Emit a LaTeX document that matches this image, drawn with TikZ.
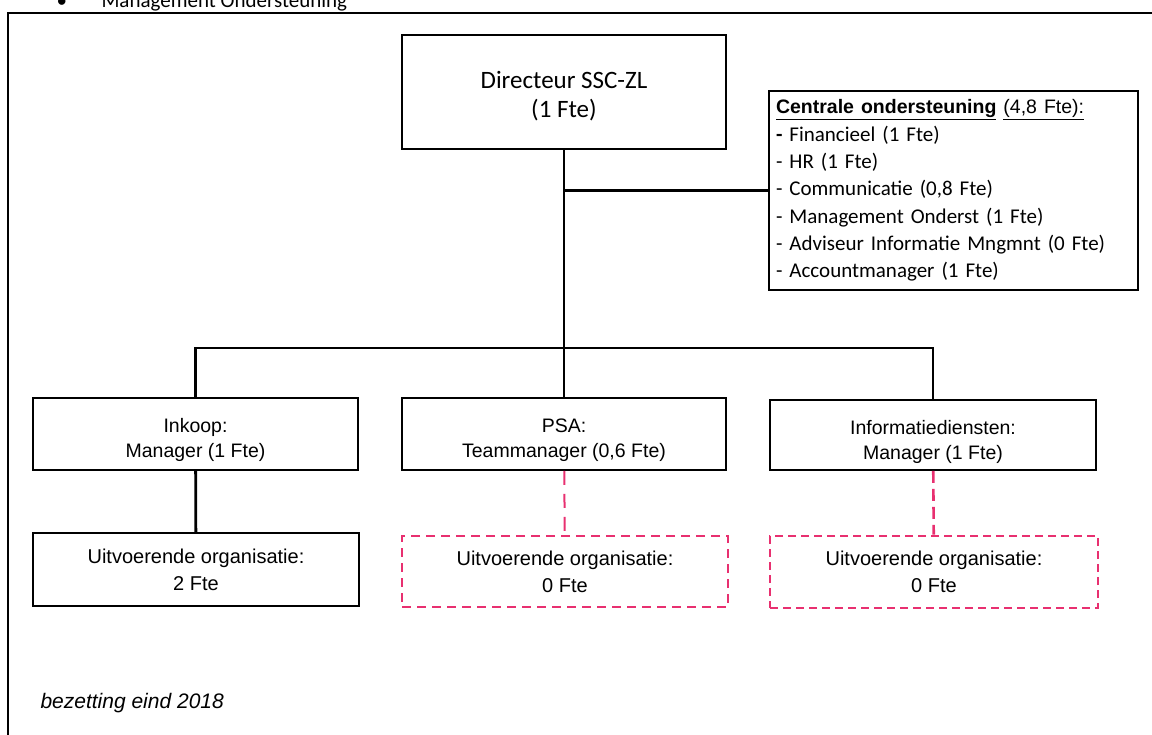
\documentclass[tikz,border=0pt]{standalone}
\usepackage{fontspec}
\setmainfont{Liberation Sans}
\newfontfamily\calfont{Carlito}
\usepackage{xcolor}
\usepackage{tikz}
\usetikzlibrary{shapes.geometric, calc}
\definecolor{fteroze}{RGB}{232,48,112}

\tikzset{
  eenheid/.style={draw=black, line width=1.6pt, inner sep=0pt, align=center,
    minimum width=325pt, minimum height=72pt, font=\fontsize{20}{27}\selectfont},
  leeg/.style={eenheid, draw=fteroze, dash pattern=on 9pt off 6pt},
  tekst/.style={align=center, inner sep=0pt, font=\fontsize{19.5}{25.5}\selectfont},
  lijn/.style={line width=2.8pt, color=black},
  rozelijn/.style={line width=2pt, color=fteroze, dash pattern=on 14pt off 9pt}
}

\begin{document}
\begin{tikzpicture}[x=1pt, y=-1pt]
\useasboundingbox (0,0) rectangle (1152,735);
\clip (0,0) rectangle (1152,735);
\node[anchor=base west, font=\calfont\fontsize{21}{25}\selectfont] (bol) at (53,8) {•};
\node[anchor=base west, font=\calfont\fontsize{21}{25}\selectfont] (kop) at (98,8) {Management Ondersteuning};
\draw[line width=1.6pt] (8,13) rectangle (1180,760);
\node[eenheid, minimum width=324pt, minimum height=114pt] (dir) at (564,92) {};
\node[tekst, font=\calfont\fontsize{25}{29}\selectfont] (dirTekst) at ([yshift=-4pt]dir.center) {Directeur SSC-ZL\\(1 Fte)};
\node[eenheid, minimum width=369pt, minimum height=199pt, align=left, text width=355pt, font=\calfont\fontsize{21}{27.3}\selectfont] (cen) at (953.5,190.5)
  {{\rmfamily\fontsize{19.5}{27.3}\selectfont\underline{\textbf{Centrale ondersteuning}} \underline{(4,8 Fte):}}\\
   \textbf{-} Financieel (1 Fte)\\
   - HR (1 Fte)\\
   - Communicatie (0,8 Fte)\\
   - Management Onderst (1 Fte)\\
   - Adviseur Informatie Mngmnt (0 Fte)\\
   - Accountmanager (1 Fte)};
\node[eenheid] (inkoop) at (195.5,434) {};
\node[tekst] (inkoopTekst) at ([yshift=-6pt]inkoop.center) {Inkoop:\\Manager (1 Fte)};
\node[eenheid, minimum width=324pt] (psa) at (564,434) {};
\node[tekst] (psaTekst) at ([yshift=-6pt]psa.center) {PSA:\\Teammanager (0,6 Fte)};
\node[eenheid, minimum width=326pt, minimum height=70pt] (info) at (933,435) {};
\node[tekst] (infoTekst) at ([yshift=-7pt]info.center) {Informatiediensten:\\Manager (1 Fte)};
\node[eenheid, minimum width=326pt, minimum height=73pt] (uitInk) at (196,569.5) {Uitvoerende organisatie:\\2 Fte};
\node[leeg, minimum width=326pt, minimum height=71pt] (uitPsa) at (565,571.5) {Uitvoerende organisatie:\\0 Fte};
\node[leeg, line width=2.6pt, minimum width=328pt, dash pattern=on 8pt off 5pt] (uitInfo) at (934,572) {Uitvoerende organisatie:\\0 Fte};
\node[anchor=base west, font=\itshape\fontsize{21}{24}\selectfont] (bezet) at (37,708) {bezetting eind 2018};
\coordinate (knoop) at (564,348);
\draw[lijn] (dir) -- (psa);
\draw[lijn] (dir.south |- cen.west) -- (cen.west);
\draw[lijn] (inkoop.north) |- (knoop) -| (info.north);
\draw[lijn] (inkoop) -- (uitInk);
\draw[rozelijn] (psa) -- (uitPsa);
\draw[rozelijn, line width=2.6pt, dash pattern=on 12pt off 6pt] (info) -- (uitInfo);
\end{tikzpicture}
\end{document}
